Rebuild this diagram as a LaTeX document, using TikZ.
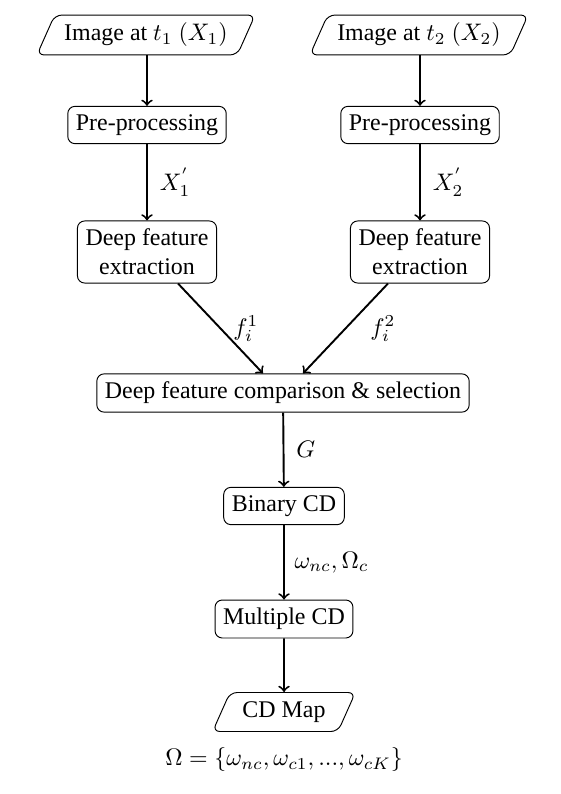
\documentclass[tikz,border=0pt]{standalone}
\usepackage[no-math]{fontspec}
\setmainfont{Liberation Serif}
\usetikzlibrary{shapes.geometric,calc}
\begin{document}
\begin{tikzpicture}[x=0.418pt,y=-0.418pt,
  box/.style={draw, rounded corners=3pt, align=center, inner sep=3.4pt, line width=0.4pt},
  io/.style={draw, trapezium, trapezium left angle=66, trapezium right angle=114,
    rounded corners=3pt, minimum height=16.3pt, inner xsep=4pt, line width=0.4pt},
  arr/.style={->, thick},
  lab/.style={right, inner sep=2pt}]
\useasboundingbox (0,0) rectangle (561,794);
\node[io] (in1) at (146,35) {Image at $t_1$ $(X_1)$};
\node[io] (in2) at (419,35) {Image at $t_2$ $(X_2)$};
\node[box] (pre1) at (147,125) {Pre-processing};
\node[box] (pre2) at (420,125) {Pre-processing};
\node[box] (dfe1) at (147,252) {Deep feature\\extraction};
\node[box] (dfe2) at (420,252) {Deep feature\\extraction};
\node[box] (cmp) at (283,393) {Deep feature comparison \& selection};
\node[box] (bin) at (284,506) {Binary CD};
\node[box] (mul) at (284,619) {Multiple CD};
\node[io] (map) at (284,712) {CD Map};
\node (omega) at (284,760) {$\Omega=\{\omega_{nc},\omega_{c1},...,\omega_{cK}\}$};

\draw[arr] (in1.south -| pre1) -- (pre1);
\draw[arr] (in2.south -| pre2) -- (pre2);
\draw[arr] (pre1) -- node[lab, xshift=3pt] {$X^{'}_1$} (dfe1);
\draw[arr] (pre2) -- node[lab, xshift=3pt] {$X^{'}_2$} (dfe2);
\draw[arr] ($(dfe1.south)+(31,0)$) -- node[lab, xshift=3pt] {$f_i^1$} ($(cmp.north)+(-20,0)$);
\draw[arr] ($(dfe2.south)+(-32,0)$) -- node[lab, xshift=8pt] {$f_i^2$} ($(cmp.north)+(20,0)$);
\draw[arr] (cmp) -- node[lab, xshift=3pt] {$G$} (bin);
\draw[arr] (bin) -- node[lab, xshift=2pt] {$\omega_{nc},\Omega_c$} (mul);
\draw[arr] (mul) -- (map);
\end{tikzpicture}
\end{document}
